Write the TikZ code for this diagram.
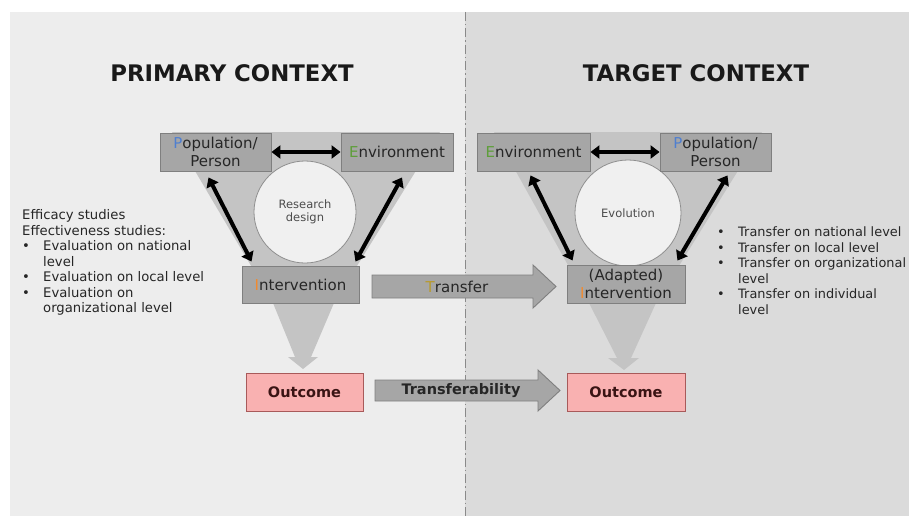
\documentclass[tikz,border=0pt]{standalone}
\usepackage{fontspec}
\setmainfont{DejaVu Sans}
\usetikzlibrary{arrows.meta,calc}
\definecolor{panelL}{HTML}{EDEDED}
\definecolor{panelR}{HTML}{DBDBDB}
\definecolor{funnel}{HTML}{C4C4C4}
\definecolor{boxfill}{HTML}{A6A6A6}
\definecolor{boxdraw}{HTML}{7F7F7F}
\definecolor{circfill}{HTML}{F0F0F0}
\definecolor{circdraw}{HTML}{8F8F8F}
\definecolor{outfill}{HTML}{F9B1B1}
\definecolor{outdraw}{HTML}{A85A5A}
\definecolor{outtext}{HTML}{3A1414}
\definecolor{pblue}{HTML}{4F7FD0}
\definecolor{egreen}{HTML}{5E9E3A}
\definecolor{iorange}{HTML}{F08A30}
\definecolor{tgold}{HTML}{B89A2E}
\definecolor{txt}{HTML}{262626}
\definecolor{divcol}{HTML}{8A8A8A}
\newcommand\blt[1]{\makebox[21pt][l]{•}#1}
\begin{document}
\begin{tikzpicture}[x=1pt,y=-1pt,
  box/.style={draw=boxdraw, line width=0.9pt, fill=boxfill, inner sep=0pt, align=center,
    minimum height=38pt, font=\fontsize{15}{17.5}\selectfont, text=txt},
  outbox/.style={draw=outdraw, line width=0.9pt, fill=outfill, minimum height=38pt,
    inner sep=0pt, font=\bfseries\fontsize{14.5}{17}\selectfont, text=outtext},
  circ/.style={circle, draw=circdraw, line width=0.8pt, fill=circfill, inner sep=0pt,
    align=center, font=\fontsize{11.5}{13}\selectfont, text=black!70},
  dbl/.style={line width=4pt, black, {Triangle[length=9pt,width=13pt]}-{Triangle[length=9pt,width=13pt]}},
  blk/.style={draw=boxdraw, line width=0.9pt, fill=boxfill},
  lst/.style={anchor=base west, inner sep=0pt, font=\fontsize{13.2}{15}\selectfont, text=txt},
  rlst/.style={lst, font=\fontsize{12.9}{15}\selectfont},
  ttl/.style={font=\bfseries\fontsize{22.8}{26}\selectfont, text=black!90},
  arrtxt/.style={inner sep=0pt, font=\fontsize{15}{17}\selectfont, text=txt},
]
\useasboundingbox (0,0) rectangle (909,516);
% panels
\fill[white] (0,0) rectangle (909,516);
\fill[panelL] (10,12) rectangle (465,516);
\fill[panelR] (465,12) rectangle (909,516);
\draw[divcol, line width=0.8pt, dash pattern=on 9pt off 3pt on 1.5pt off 3pt] (465,12) -- (465,516);
% titles
\node[ttl] (t1) at (232,73) {PRIMARY CONTEXT};
\node[ttl] (t2) at (696,73) {TARGET CONTEXT};
% funnels
\fill[funnel] (172,132) -- (440,132) -- (334,303) -- (311,357) -- (318,357) -- (303,369)
  -- (288,357) -- (295,357) -- (273,303) -- cycle;
\fill[funnel] (494,132) -- (762,132) -- (656,303) -- (631,358) -- (639,358) -- (624,370)
  -- (608,358) -- (617,358) -- (589,303) -- cycle;
% circles
\node[circ, minimum size=102pt] (c1) at (305,212) {Research\\design};
\node[circ, minimum size=106pt] (c2) at (628,213) {Evolution};
% primary boxes
\node[box, minimum width=111pt] (pp1) at (215.5,152) {\textcolor{pblue}{P}opulation/\\Person};
\node[box, minimum width=112pt] (ee1) at (397,152) {\textcolor{egreen}{E}nvironment};
\node[box, minimum width=117pt, minimum height=37pt] (in1) at (300.5,284.5) {\textcolor{iorange}{I}ntervention};
% target boxes
\node[box, minimum width=113pt] (ee2) at (533.5,152) {\textcolor{egreen}{E}nvironment};
\node[box, minimum width=111pt] (pp2) at (715.5,152) {\textcolor{pblue}{P}opulation/\\Person};
\node[box, minimum width=118pt] (in2) at (626,284) {(Adapted)\\\textcolor{iorange}{I}ntervention};
% outcomes
\node[outbox, minimum width=117pt] (o1) at (304.5,392) {Outcome};
\node[outbox, minimum width=118pt] (o2) at (626,392) {Outcome};
% double arrows
\draw[dbl] (pp1.east) -- (ee1.west);
\draw[dbl] ($(pp1.south)+(-7,6)$) -- ($(in1.north west)+(10,-4)$);
\draw[dbl] ($(ee1.south)+(5,6)$) -- ($(in1.north east)+(-4,-4)$);
\draw[dbl] (ee2.east) -- (pp2.west);
\draw[dbl] ($(ee2.south)+(-3,4)$) -- ($(in2.north west)+(6,-4)$);
\draw[dbl] ($(pp2.south)+(12,4)$) -- ($(in2.north east)+(-8,-4)$);
% block arrows
\draw[blk] (372,275) -- (533,275) -- (533,265) -- (556,286.5) -- (533,308) -- (533,298) -- (372,298) -- cycle;
\node[arrtxt] (tr) at (457,286.5) {\textcolor{tgold}{T}ransfer};
\draw[blk] (375,380) -- (538,380) -- (538,370) -- (560,390.5) -- (538,411) -- (538,401) -- (375,401) -- cycle;
\node[arrtxt, font=\bfseries\fontsize{14.5}{17}\selectfont] (tb) at (461,390.5) {Transferability};
% left list
\node[lst] (l1) at (22,219.5) {Efficacy studies};
\node[lst] (l2) at (22,235) {Effectiveness studies:};
\node[lst] (l3) at (22,250.5) {\blt{Evaluation on national}};
\node[lst] (l4) at (43,266) {level};
\node[lst] (l5) at (22,281.5) {\blt{Evaluation on local level}};
\node[lst] (l6) at (22,297) {\blt{Evaluation on}};
\node[lst] (l7) at (43,312.5) {organizational level};
% right list
\node[rlst] (r1) at (717,236.5) {\blt{Transfer on national level}};
\node[rlst] (r2) at (717,252) {\blt{Transfer on local level}};
\node[rlst] (r3) at (717,267.5) {\blt{Transfer on organizational}};
\node[rlst] (r4) at (738,283) {level};
\node[rlst] (r5) at (717,298.5) {\blt{Transfer on individual}};
\node[rlst] (r6) at (738,314) {level};
\end{tikzpicture}
\end{document}
